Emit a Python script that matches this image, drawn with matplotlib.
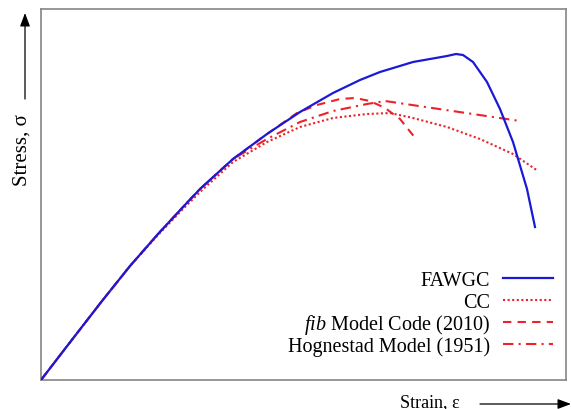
import matplotlib
matplotlib.use("Agg")
import matplotlib.pyplot as plt
from matplotlib.lines import Line2D
from matplotlib.patches import FancyArrowPatch

plt.rcParams['font.family'] = ['Liberation Serif', 'DejaVu Serif']
plt.rcParams['mathtext.fontset'] = 'custom'
plt.rcParams['mathtext.rm'] = 'Liberation Serif'
plt.rcParams['mathtext.it'] = 'Liberation Serif:italic'

# Data (arbitrary units)
fawgc_x = [0, 0.30, 0.61, 0.89, 1.17, 1.42, 1.59, 1.92, 2.26, 2.59, 2.92, 3.19, 3.39, 3.72,
           4.06, 4.15, 4.22, 4.32, 4.46, 4.59, 4.72, 4.86, 4.94]
fawgc_y = [0, 0.39, 0.79, 1.14, 1.46, 1.73, 1.91, 2.21, 2.46, 2.68, 2.87, 3.00, 3.08, 3.18,
           3.24, 3.26, 3.25, 3.18, 2.98, 2.71, 2.38, 1.91, 1.53]

cc_x = [0, 0.30, 0.61, 0.89, 1.17, 1.42, 1.59, 1.92, 2.26, 2.59, 2.92, 3.26, 3.49, 3.72,
        4.06, 4.39, 4.72, 4.97]
cc_y = [0, 0.39, 0.79, 1.14, 1.45, 1.71, 1.88, 2.18, 2.38, 2.53, 2.62, 2.66, 2.67, 2.62,
        2.53, 2.41, 2.26, 2.09]

fib_x = [0, 0.30, 0.61, 0.89, 1.17, 1.42, 1.59, 1.92, 2.26, 2.56, 2.76, 2.99, 3.14, 3.29,
         3.44, 3.59, 3.75]
fib_y = [0, 0.39, 0.79, 1.14, 1.46, 1.73, 1.91, 2.21, 2.46, 2.67, 2.75, 2.81, 2.82, 2.79,
         2.72, 2.61, 2.41]

hog_x = [0, 0.30, 0.61, 0.89, 1.17, 1.42, 1.59, 1.92, 2.26, 2.59, 2.92, 3.26, 3.44, 4.79]
hog_y = [0, 0.39, 0.79, 1.14, 1.46, 1.73, 1.91, 2.21, 2.41, 2.58, 2.69, 2.76, 2.79, 2.59]

labels = ['FAWGC', 'CC', r'$\it{fib}$ Model Code (2010)', 'Hognestad Model (1951)']

W, H = 571, 410
fig = plt.figure(figsize=(W / 100, H / 100), dpi=100)
ax = fig.add_axes([41 / W, 1 - 381 / H, 525 / W, 371 / H])

blue = '#1a1ad6'
red = '#ec2228'
styles = [
    dict(color=blue, lw=1.6, linestyle='-'),
    dict(color=red, lw=1.5, linestyle=(0, (1, 1.2))),
    dict(color=red, lw=1.5, linestyle=(0, (4, 3))),
    dict(color=red, lw=1.5, linestyle=(0, (5, 2.5, 1, 2.5))),
]
series = [(fawgc_x, fawgc_y), (cc_x, cc_y), (fib_x, fib_y), (hog_x, hog_y)]
for i, ((xs, ys), st) in enumerate(zip(series, styles)):
    ax.plot(xs, ys, label=labels[i], zorder=5 if i == 0 else 3, **st)

ax.set_xlim(0, 5.25)
ax.set_ylim(0, 3.71)
ax.set_xticks([])
ax.set_yticks([])
for s in ax.spines.values():
    s.set_color('#858585')
    s.set_linewidth(1.2)

# Legend (text right-aligned, handle on the right)
baselines = [286, 308, 330, 352]
for lab, st, b in zip(labels, styles, baselines):
    fig.text(490 / W, 1 - b / H, lab, ha='right', va='baseline', fontsize=14.5)
    yl = 1 - (b - 7.5) / H
    fig.add_artist(Line2D([503 / W, 553 / W], [yl, yl], transform=fig.transFigure, **st))

fig.text(430 / W, 1 - 403 / H, 'Strain, ε', ha='center', va='center', fontsize=13)
fig.text(22 / W, 1 - 150 / H, 'Stress, σ', ha='center', va='center', fontsize=15,
         rotation=90)

fig.add_artist(FancyArrowPatch(
    (480 / W, 1 - 405 / H), (571 / W, 1 - 405 / H), transform=fig.transFigure,
    arrowstyle='-|>,head_length=8,head_width=3', color='black', lw=0.9,
    shrinkA=0, shrinkB=0))
fig.add_artist(FancyArrowPatch(
    (25 / W, 1 - 100 / H), (25 / W, 1 - 14 / H), transform=fig.transFigure,
    arrowstyle='-|>,head_length=8,head_width=3', color='black', lw=0.9,
    shrinkA=0, shrinkB=0))

fig.savefig('out.png', dpi=100)
